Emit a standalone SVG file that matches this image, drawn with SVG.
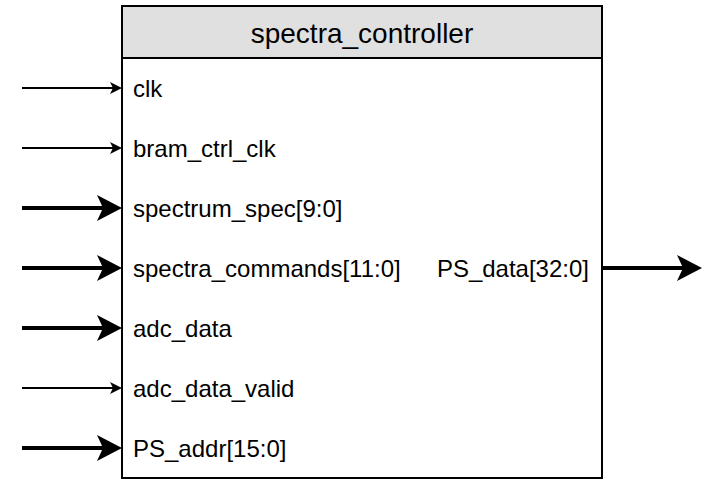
<svg xmlns="http://www.w3.org/2000/svg" width="724" height="484" viewBox="0 0 724 484">
<style>
.lbl{font-family:"Liberation Sans",Arial,sans-serif;font-size:24px;fill:#000}
.title{font-family:"Liberation Sans",Arial,sans-serif;font-size:28px;fill:#000}
.thin{stroke:#000;stroke-width:2;fill:none}
.thick{stroke:#000;stroke-width:4;fill:none}
</style>
<defs>
<marker id="ah1" markerUnits="userSpaceOnUse" markerWidth="14" markerHeight="14" refX="3" refY="6" orient="auto" overflow="visible">
<path d="M0,0 L12,6 L0,12 L3,6 Z" fill="#000"/>
</marker>
<marker id="ah2" markerUnits="userSpaceOnUse" markerWidth="27" markerHeight="27" refX="6" refY="13" orient="auto" overflow="visible">
<path d="M0,0 L25,13 L0,26 L6,13 Z" fill="#000"/>
</marker>
</defs>
<g id="spectra_controller">
<rect x="122" y="6" width="480" height="472" fill="#fff" stroke="#000" stroke-width="2"/>
<rect x="122" y="6" width="480" height="52" fill="#e0e0e0" stroke="#000" stroke-width="2"/>
<text class="title" x="362" y="43" text-anchor="middle">spectra_controller</text>
<text class="lbl" x="133" y="97">clk</text>
<text class="lbl" x="133" y="157">bram_ctrl_clk</text>
<text class="lbl" x="133" y="217">spectrum_spec[9:0]</text>
<text class="lbl" x="133" y="277">spectra_commands[11:0]</text>
<text class="lbl" x="133" y="337">adc_data</text>
<text class="lbl" x="133" y="397">adc_data_valid</text>
<text class="lbl" x="133" y="457">PS_addr[15:0]</text>
<text class="lbl" x="589" y="277" text-anchor="end">PS_data[32:0]</text>
</g>
<g id="connectors">
<line class="thin" x1="22" y1="88" x2="113" y2="88" marker-end="url(#ah1)"/>
<line class="thin" x1="22" y1="148" x2="113" y2="148" marker-end="url(#ah1)"/>
<line class="thick" x1="22" y1="208" x2="103" y2="208" marker-end="url(#ah2)"/>
<line class="thick" x1="22" y1="268" x2="103" y2="268" marker-end="url(#ah2)"/>
<line class="thick" x1="22" y1="328" x2="103" y2="328" marker-end="url(#ah2)"/>
<line class="thin" x1="22" y1="388" x2="113" y2="388" marker-end="url(#ah1)"/>
<line class="thick" x1="22" y1="448" x2="103" y2="448" marker-end="url(#ah2)"/>
<line class="thick" x1="602" y1="268" x2="683" y2="268" marker-end="url(#ah2)"/>
</g>
</svg>
